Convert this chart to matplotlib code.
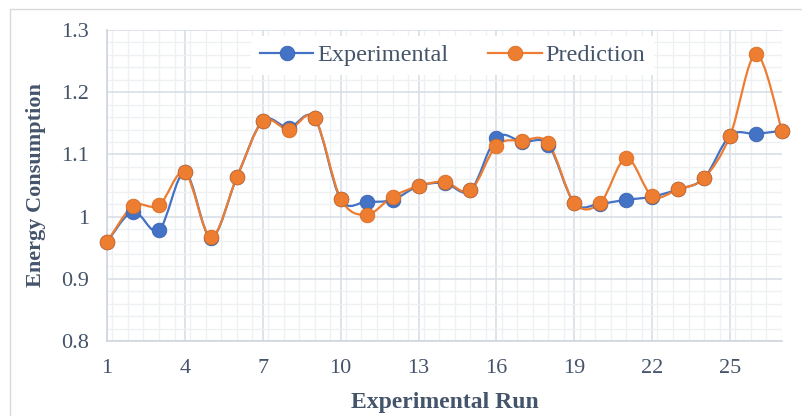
import matplotlib

matplotlib.use("Agg")
import matplotlib.pyplot as plt
import matplotlib.patches as mpatches
from matplotlib.path import Path
from matplotlib.lines import Line2D
from matplotlib.ticker import FixedLocator, MultipleLocator, AutoMinorLocator
import numpy as np

runs = list(range(1, 28))
experimental = [0.959, 1.008, 0.978, 1.071, 0.966, 1.063, 1.154, 1.143, 1.158, 1.028,
                1.024, 1.027, 1.049, 1.054, 1.042, 1.127, 1.120, 1.115, 1.022, 1.021,
                1.027, 1.032, 1.044, 1.062, 1.130, 1.133, 1.138]
prediction = [0.959, 1.017, 1.018, 1.071, 0.967, 1.063, 1.153, 1.140, 1.158, 1.029,
              1.003, 1.032, 1.049, 1.056, 1.042, 1.114, 1.122, 1.118, 1.022, 1.022,
              1.094, 1.033, 1.044, 1.062, 1.130, 1.261, 1.138]
x_ticks = list(range(1, 26, 3))
y_ticks = [0.8, 0.9, 1.0, 1.1, 1.2, 1.3]
y_labels = ["0.8", "0.9", "1", "1.1", "1.2", "1.3"]

TEXT = "#44546A"
BLUE = "#4472C4"
ORANGE = "#ED7D31"

plt.rcParams["font.family"] = ["Liberation Serif", "DejaVu Serif"]

fig = plt.figure(figsize=(8.02, 4.16), dpi=100)
ax = fig.add_axes([107 / 802, 1 - 341 / 416, 675 / 802, 311 / 416])

# outer chart border (only left/top visible in the crop)
fig.patches.append(mpatches.Rectangle((10 / 802, -0.1), 1.0, (416 - 9) / 416 + 0.1,
                                      transform=fig.transFigure, fill=False,
                                      edgecolor="#D9D9D9", lw=1.0))


def smooth_path(xs, ys):
    pts = np.column_stack([xs, ys]).astype(float)
    n = len(pts)
    verts = [pts[0]]
    codes = [Path.MOVETO]
    for i in range(n - 1):
        p0 = pts[max(i - 1, 0)]
        p1 = pts[i]
        p2 = pts[i + 1]
        p3 = pts[min(i + 2, n - 1)]
        c1 = p1 + (p2 - p0) / 6
        c2 = p2 - (p3 - p1) / 6
        verts += [c1, c2, p2]
        codes += [Path.CURVE4] * 3
    return Path(verts, codes)


for ys, col, dark in [(experimental, BLUE, "#3A64B0"), (prediction, ORANGE, "#D96B20")]:
    ax.add_patch(mpatches.PathPatch(smooth_path(runs, ys), fill=False, edgecolor=col,
                                    lw=1.6, zorder=3))
    ax.plot(runs, ys, ls="none", marker="o", ms=10.5, mfc=col, mec=dark, mew=0.6,
            zorder=4, clip_on=False)

ax.set_xlim(1, 27)
ax.set_ylim(0.8, 1.3)
ax.xaxis.set_major_locator(FixedLocator(x_ticks))
ax.xaxis.set_minor_locator(MultipleLocator(0.6))
ax.set_yticks(y_ticks)
ax.set_yticklabels(y_labels)
ax.yaxis.set_minor_locator(AutoMinorLocator(5))

ax.grid(which="major", color="#D9DEE6", lw=1.2)
ax.grid(which="minor", color="#EEF0F4", lw=1.0)
ax.set_axisbelow(True)
for s in ["top", "right"]:
    ax.spines[s].set_visible(False)
for s in ["left", "bottom"]:
    ax.spines[s].set_color("#D0D5DD")
    ax.spines[s].set_linewidth(1.2)

ax.tick_params(which="both", length=0, colors=TEXT, labelsize=16)
ax.tick_params(axis="x", pad=13)
ax.tick_params(axis="y", pad=13)

ax.set_xlabel("Experimental Run", fontsize=17, fontweight="bold", color=TEXT, labelpad=10)
ax.set_ylabel("Energy Consumption", fontsize=16, fontweight="bold", color=TEXT, labelpad=11)

handles = [
    Line2D([], [], color=BLUE, lw=1.6, marker="o", ms=10.5, mfc=BLUE, mec="#3A64B0", mew=0.6),
    Line2D([], [], color=ORANGE, lw=1.6, marker="o", ms=10.5, mfc=ORANGE, mec="#D96B20", mew=0.6),
]
leg = ax.legend(handles, ["Experimental", "Prediction"], loc="upper center",
                bbox_to_anchor=(0.512, 1.02), ncol=2, frameon=True, fancybox=False,
                edgecolor="none", facecolor="white", framealpha=1.0, fontsize=17.5,
                handlelength=2.2, columnspacing=1.65, handletextpad=0.15,
                borderpad=0.35)
for t in leg.get_texts():
    t.set_color(TEXT)

fig.savefig("out.png", dpi=100, facecolor="white")
